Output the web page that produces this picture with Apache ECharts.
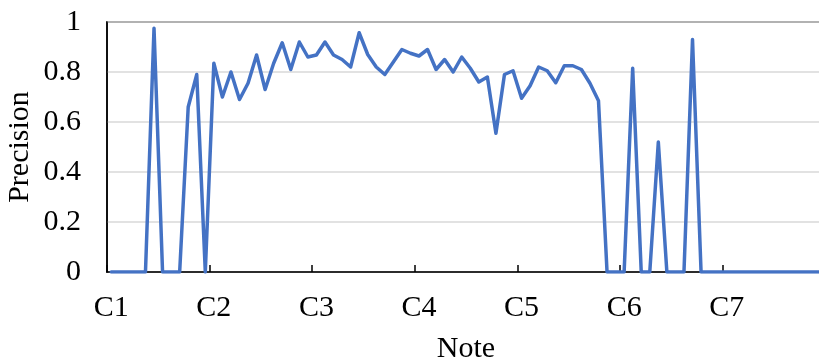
<!DOCTYPE html>
<html>
<head>
<meta charset="utf-8">
<script src="https://cdn.jsdelivr.net/npm/echarts@6/dist/echarts.min.js"></script>
<style>
  html, body { margin: 0; padding: 0; background: #fff; }
  #chart { width: 819px; height: 363px; }
</style>
</head>
<body>
<div id="chart"></div>
<script>
// Pitch classes and octaves spanned by the note axis (C1 .. B7)
const pitchNames = ['C', 'C#', 'D', 'D#', 'E', 'F', 'F#', 'G', 'G#', 'A', 'A#', 'B'];
const octaves = [1, 2, 3, 4, 5, 6, 7];

// Precision per note, in the same order as the note list
const precision = [
  0, 0, 0, 0, 0, 0.975, 0, 0, 0, 0.66, 0.79, 0,
  0.835, 0.70, 0.80, 0.69, 0.755, 0.868, 0.73, 0.835, 0.917, 0.81, 0.92, 0.86,
  0.868, 0.92, 0.868, 0.85, 0.82, 0.957, 0.87, 0.82, 0.79, 0.84, 0.89, 0.875,
  0.864, 0.89, 0.81, 0.85, 0.80, 0.86, 0.815, 0.76, 0.78, 0.555, 0.79, 0.805,
  0.695, 0.745, 0.82, 0.805, 0.757, 0.825, 0.825, 0.81, 0.755, 0.685, 0, 0,
  0, 0.815, 0, 0, 0.52, 0, 0, 0, 0.93, 0, 0, 0,
  0, 0, 0, 0, 0, 0, 0, 0, 0, 0, 0, 0
];

const notes = [];
octaves.forEach(o => pitchNames.forEach(p => notes.push(p + o)));

const font = 'Liberation Serif, Times New Roman, serif';
const chart = echarts.init(document.getElementById('chart'));
chart.setOption({
  animation: false,
  grid: {
    left: 107, top: 22, width: 718, height: 250,
    outerBoundsMode: 'none',
    containLabel: false,
    show: true, borderColor: '#000', borderWidth: 1.5, backgroundColor: 'transparent'
  },
  xAxis: {
    type: 'category',
    data: notes,
    boundaryGap: true,
    name: 'Note',
    nameLocation: 'middle',
    nameGap: 62,
    nameMoveOverlap: false,
    nameTextStyle: { fontFamily: font, fontSize: 30, color: '#000' },
    axisLine: { lineStyle: { color: '#000', width: 1.5 } },
    axisTick: { show: true, inside: true, length: 7, interval: 11, lineStyle: { color: '#000', width: 1.5 } },
    axisLabel: { interval: 11, margin: 21, fontFamily: font, fontSize: 30, color: '#000' },
    splitLine: { show: false }
  },
  yAxis: {
    type: 'value',
    min: 0, max: 1, interval: 0.2,
    name: 'Precision',
    nameLocation: 'middle',
    nameGap: 72,
    nameMoveOverlap: false,
    nameTextStyle: { fontFamily: font, fontSize: 30, color: '#000' },
    axisLine: { show: true, lineStyle: { color: '#000', width: 1.5 } },
    axisTick: { show: false },
    axisLabel: { margin: 26, fontFamily: font, fontSize: 30, color: '#000', padding: [8, 0, 0, 0] },
    splitLine: { show: true, lineStyle: { color: '#d9d9d9', width: 1.5 } }
  },
  series: [{
    type: 'line',
    data: precision,
    symbol: 'none',
    lineStyle: { color: '#4472C4', width: 3.5, join: 'round', cap: 'round' }
  }]
});
</script>
</body>
</html>
